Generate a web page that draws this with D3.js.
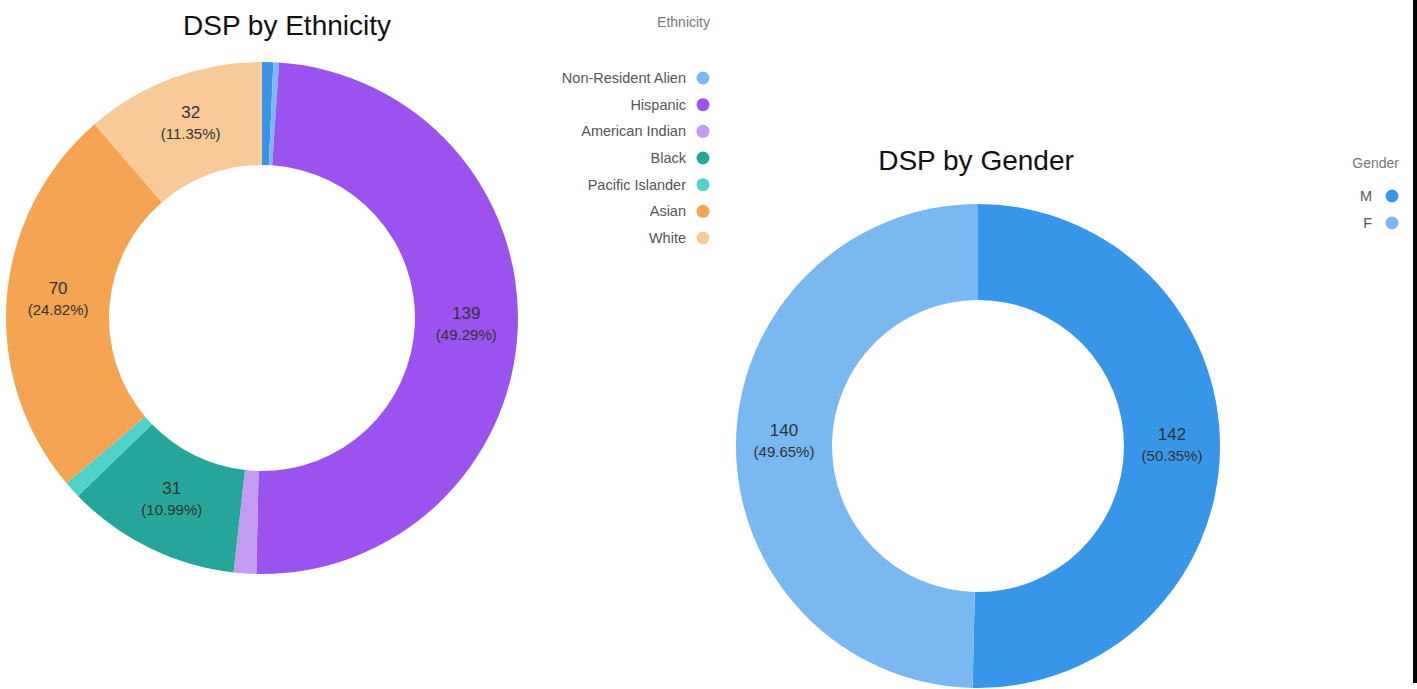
<!DOCTYPE html>
<html>
<head>
<meta charset="utf-8">
<script src="https://cdn.jsdelivr.net/npm/d3@7"></script>
<style>
  html, body { margin: 0; padding: 0; background: #fff; }
  svg { display: block; font-family: "Liberation Sans", Arial, sans-serif; }
</style>
</head>
<body>
<script>
'use strict';

// ethnicity data (first slice has no legend entry in the source)
const ethCategories = ["Unknown", "Non-Resident Alien", "Hispanic", "American Indian", "Black", "Pacific Islander", "Asian", "White"];
const ethValues = [2, 1, 139, 4, 31, 3, 70, 32];
const ethColors = ["#3a93e6", "#7cb9f2", "#9c52ef", "#c39bf1", "#26a69a", "#4fd2c9", "#f4a453", "#f8c999"];
const ethLegend = ["Non-Resident Alien", "Hispanic", "American Indian", "Black", "Pacific Islander", "Asian", "White"];

// gender data
const genCategories = ["M", "F"];
const genValues = [142, 140];
const genColors = ["#3896ea", "#79b8f1"];

const svg = d3.select('body').append('svg')
  .attr('width', 1417)
  .attr('height', 689);

function drawDonut(cats, vals, colors, cx, cy, rOut, rIn, minShare) {
  const total = d3.sum(vals);
  const rows = cats.map((c, i) => ({ name: c, value: vals[i], color: colors[i] }));
  const pie = d3.pie().value(d => d.value).sort(null);
  const arc = d3.arc().innerRadius(rIn).outerRadius(rOut);
  const labelArc = d3.arc().innerRadius((rIn + rOut) / 2).outerRadius((rIn + rOut) / 2);
  const g = svg.append('g').attr('transform', `translate(${cx}, ${cy})`);
  const arcs = pie(rows);

  g.selectAll('path')
    .data(arcs)
    .enter()
    .append('path')
      .attr('d', arc)
      .attr('fill', d => d.data.color);

  // only the bigger slices get a label
  const labels = g.selectAll('.lbl')
    .data(arcs.filter(d => d.data.value / total > minShare))
    .enter()
    .append('text')
      .attr('class', 'lbl')
      .attr('transform', d => `translate(${labelArc.centroid(d)})`)
      .attr('text-anchor', 'middle')
      .attr('fill', '#333');
  labels.append('tspan')
    .attr('x', 0).attr('y', -8)
    .style('font-size', '17px')
    .text(d => d.data.value);
  labels.append('tspan')
    .attr('x', 0).attr('y', 13)
    .style('font-size', '15px')
    .text(d => '(' + (d.data.value / total * 100).toFixed(2) + '%)');
}

function drawLegend(title, names, colorOf, textX, dotX, titleY, y0, step) {
  svg.append('text')
    .attr('x', dotX + 7)
    .attr('y', titleY)
    .attr('text-anchor', 'end')
    .style('font-size', '14px')
    .attr('fill', '#777')
    .text(title);
  names.forEach((n, i) => {
    let y = y0 + i * step;
    svg.append('text')
      .attr('x', textX)
      .attr('y', y + 5)
      .attr('text-anchor', 'end')
      .style('font-size', '14.5px')
      .attr('fill', '#555')
      .text(n);
    svg.append('circle')
      .attr('cx', dotX)
      .attr('cy', y)
      .attr('r', 6.5)
      .attr('fill', colorOf(n));
  });
}

// titles
svg.append('text')
  .attr('x', 287).attr('y', 35)
  .attr('text-anchor', 'middle')
  .style('font-size', '28px')
  .attr('fill', '#111')
  .text('DSP by Ethnicity');

svg.append('text')
  .attr('x', 976).attr('y', 170)
  .attr('text-anchor', 'middle')
  .style('font-size', '28px')
  .attr('fill', '#111')
  .text('DSP by Gender');

drawDonut(ethCategories, ethValues, ethColors, 262, 318, 256, 153, 0.05);
drawDonut(genCategories, genValues, genColors, 978, 446, 242, 146, 0.05);

drawLegend('Ethnicity', ethLegend, n => ethColors[ethCategories.indexOf(n)], 686, 703, 27, 78, 26.67);
drawLegend('Gender', genCategories, n => genColors[genCategories.indexOf(n)], 1372, 1392, 168, 196, 27);

// right edge border
svg.append('rect')
  .attr('x', 1413).attr('y', 0)
  .attr('width', 4).attr('height', 683)
  .attr('fill', '#000');
</script>
</body>
</html>
